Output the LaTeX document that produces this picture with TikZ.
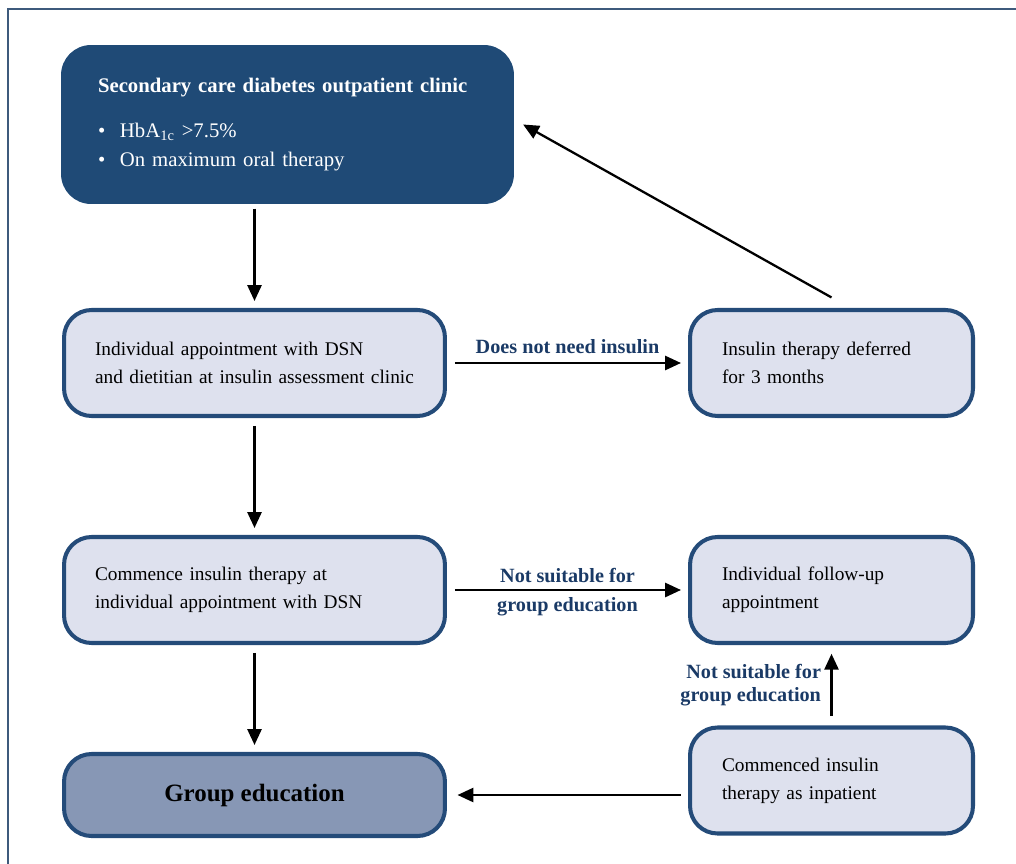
\documentclass[tikz,border=0pt]{standalone}
\usepackage{fontspec}
\setmainfont{Liberation Serif}
\usepackage{xcolor}
\usetikzlibrary{arrows.meta, calc, positioning}

\definecolor{clinicblue}{HTML}{1F4A76}
\definecolor{boxline}{HTML}{244B79}
\definecolor{boxfill}{HTML}{DEE1EE}
\definecolor{groupfill}{HTML}{8797B5}
\definecolor{labelblue}{HTML}{1A3A66}
\definecolor{framecol}{HTML}{3E5A7C}

\begin{document}
\begin{tikzpicture}[x=0.02cm, y=-0.02cm,
                        stepbox/.style={draw=boxline, line width=2.3pt, fill=boxfill, rounded corners=0.55cm, minimum height=2.12cm, align=left, font=\fontsize{11}{15.9}\selectfont},
                        widebox/.style={stepbox, text width=6.38cm, inner xsep=0.62cm},
                        narrowbox/.style={stepbox, text width=4.38cm, inner xsep=0.64cm},
                        flow/.style={line width=1.3pt, -{Triangle[length=9pt, width=8pt]}, shorten <=4.5pt, shorten >=4pt},
                        tag/.style={font=\fontsize{11.5}{13.5}\selectfont\bfseries, text=labelblue}]
                        \useasboundingbox (0, 0) rectangle (1016, 864);
                        \draw[framecol, line width=1pt] (8, 864) -- (8, 9) -- (1016, 9);
                        \node[fill=clinicblue, text=white, rounded corners=0.6cm, minimum height=3.18cm, text width=7.58cm, inner xsep=0.74cm, align=left, font=\fontsize{11.8}{16.4}\selectfont] (clinic) at (287.5, 124.5)
                        {\textbf{Secondary care diabetes outpatient clinic}\\[9pt]
                        \makebox[12.5pt][l]{\textbullet}HbA\textsubscript{1c} >7.5\%\\
                        \makebox[12.5pt][l]{\textbullet}On maximum oral therapy};
                        \node[widebox] (assess) at (254.5, 363) {Individual appointment with DSN\\and dietitian at insulin assessment clinic};
                        \node[narrowbox] (deferred) at (831.5, 363) {Insulin therapy deferred\\for 3 months};
                        \node[widebox] (commence) at (254.5, 590) {Commence insulin therapy at\\individual appointment with DSN};
                        \node[narrowbox] (followup) at (831.5, 590) {Individual follow-up\\appointment};
                        \node[stepbox, fill=groupfill, minimum width=7.62cm, minimum height=1.64cm, align=center, font=\fontsize{14.2}{17}\selectfont\bfseries] (groupedu) at (254.5, 795) {Group education};
                        \node[narrowbox] (inpatient) at (831.5, 780.5) {Commenced insulin\\therapy as inpatient};
                        \draw
                        (assess |- clinic.south) edge[flow, shorten <=2.5pt] (assess.north)
                        (assess.south) edge[flow] (commence.north)
                        (commence.south) edge[flow] (groupedu.north)
                        (assess.east) edge[flow] node[tag, above, yshift=1pt] {Does not need insulin} (deferred.west)
                        (commence.east) edge[flow] node[tag, above] {Not suitable for} node[tag, below] {group education} (followup.west)
                        (inpatient.north) edge[flow, shorten <=5.4pt, shorten >=5pt] node[tag, left, align=right, xshift=-2pt] {Not suitable for\\group education} (followup.south)
                        (inpatient.west |- groupedu.east) edge[flow, shorten <=4pt, shorten >=6pt] (groupedu.east)
                        ([yshift=6pt]deferred.north) edge[flow, shorten <=0pt, shorten >=0pt] ([xshift=5pt]clinic.east);
                    \end{tikzpicture}
\end{document}
